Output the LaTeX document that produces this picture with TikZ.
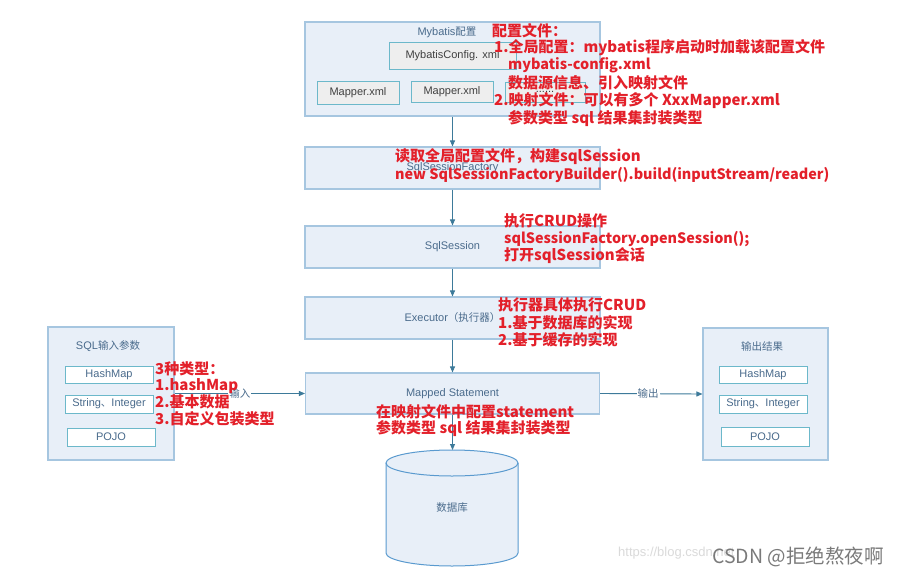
\documentclass[tikz,border=0pt]{standalone}
\usepackage{fontspec}
\setmainfont{Liberation Sans}
\newfontfamily\cjk{Noto Sans CJK SC}
\usetikzlibrary{arrows.meta}
\definecolor{boxfill}{HTML}{E8EFF8}
\definecolor{boxline}{HTML}{A6C6E0}
\definecolor{lblcol}{HTML}{4A6B8C}
\definecolor{tealline}{HTML}{6CB8CA}
\definecolor{grayfill}{HTML}{EEEEEE}
\definecolor{arrowc}{HTML}{3D7A9A}
\definecolor{redc}{HTML}{E3202A}
\definecolor{dbline}{HTML}{5A9ACF}
\definecolor{wmgray}{HTML}{7A7A7A}
\definecolor{wmlight}{HTML}{DADADA}
\newcommand\zh[1]{{\cjk\fontsize{10.5}{12}\selectfont #1}}
\begin{document}
\begin{tikzpicture}[x=1pt,y=-1pt,
  bigbox/.style={draw=boxline,fill=boxfill,line width=1.1pt,inner sep=0pt,
    text=lblcol,font=\fontsize{11}{13}\selectfont},
  innerbox/.style={draw=tealline,fill=white,line width=1pt,inner sep=0pt,
    text=lblcol,font=\fontsize{11}{13}\selectfont},
  graybox/.style={draw=tealline,fill=grayfill,line width=1pt,inner sep=0pt,
    text=black!75,font=\fontsize{11}{13}\selectfont},
  lbl/.style={text=lblcol,font=\fontsize{11}{13}\selectfont,inner sep=1pt},
  redtxt/.style={text=redc,font=\cjk\bfseries\fontsize{15}{17}\selectfont,
    anchor=west,inner sep=0pt},
  redlat/.style={redtxt,font=\cjk\bfseries\fontsize{14.4}{17}\selectfont},
  conn/.style={draw=arrowc,line width=0.9pt,-{Triangle[length=6pt,width=5pt]}},
  edgelbl/.style={fill=white,text=lblcol,inner sep=1pt,font=\cjk\fontsize{10.5}{12}\selectfont}
]
\fill[white] (0,0) rectangle (898,576);
\useasboundingbox (0,0) rectangle (898,576);

% top box
\node[bigbox,minimum width=295pt,minimum height=94pt] (top) at (452.5,69) {};
\node[lbl] (toptitle) at (447,32) {Mybatis\zh{配置}};
\node[graybox,minimum width=127pt,minimum height=27pt] (cfg) at (452.5,55.5) {MybatisConfig. xml};
\node[graybox,minimum width=82pt,minimum height=23pt] (map1) at (358,92.5) {Mapper.xml};
\node[graybox,minimum width=82pt,minimum height=21pt] (map2) at (452,91.5) {Mapper.xml};
\node[graybox,minimum width=80pt,minimum height=20pt] (map3) at (545,92) {......};

% main chain
\node[bigbox,minimum width=295pt,minimum height=42pt] (ssf) at (452.5,168) {SqlSessionFactory};
\node[bigbox,minimum width=295pt,minimum height=42pt] (ss) at (452.5,247) {SqlSession};
\node[bigbox,minimum width=295pt,minimum height=42pt] (ex) at (452.5,318) {Executor\zh{（执行器）}};
\node[bigbox,minimum width=294pt,minimum height=41pt] (ms) at (452.5,393.5) {Mapped Statement};

% left box
\node[bigbox,minimum width=126pt,minimum height=133pt] (inp) at (111,393.5) {};
\node[lbl] (inptitle) at (108,346) {SQL\zh{输入参数}};
\node[innerbox,minimum width=88pt,minimum height=17pt] (ih) at (109,374.5) {HashMap};
\node[innerbox,minimum width=88pt,minimum height=18pt] (is) at (109,404) {String\zh{、}Integer};
\node[innerbox,minimum width=88pt,minimum height=18pt] (ip) at (111,437) {POJO};

% right box
\node[bigbox,minimum width=125pt,minimum height=132pt] (out) at (765.5,394) {};
\node[lbl] (outtitle) at (762,346) {\zh{输出结果}};
\node[innerbox,minimum width=88pt,minimum height=17pt] (oh) at (763,374.5) {HashMap};
\node[innerbox,minimum width=88pt,minimum height=18pt] (os) at (763,404) {String\zh{、}Integer};
\node[innerbox,minimum width=88pt,minimum height=19pt] (op) at (765,436.5) {POJO};

% database cylinder
\fill[boxfill] (386,463) -- (386,553) arc[start angle=180,end angle=0,x radius=66,y radius=13]
  -- (518,463) arc[start angle=0,end angle=-180,x radius=66,y radius=13] -- cycle;
\draw[dbline,line width=1pt] (386,463) -- (386,553) arc[start angle=180,end angle=0,x radius=66,y radius=13]
  -- (518,463);
\draw[dbline,line width=1pt] (452,463) ellipse[x radius=66,y radius=13];
\coordinate (dbtop) at (452.5,450);
\node[lbl] (db) at (452,508) {\zh{数据库}};

% connectors
\draw[conn] (top.south) -- (ssf.north);
\draw[conn] (ssf.south) -- (ss.north);
\draw[conn] (ss.south) -- (ex.north);
\draw[conn] (ex.south) -- (ms.north);
\draw[conn] (ms.south) -- (dbtop);
\draw[conn] (inp.east) -- node[edgelbl] (lin) {输入} (ms.west);
\draw[conn] (ms.east) -- node[edgelbl,pos=0.47] (lout) {输出} (out.west);

% red annotations
\node[redtxt] (a1) at (492,31) {配置文件：};
\node[redtxt] (a2) at (494,48) {1.全局配置：mybatis程序启动时加载该配置文件};
\node[redlat] (a3) at (508,65) {mybatis-config.xml};
\node[redtxt] (a4) at (508,83) {数据源信息、引入映射文件};
\node[redtxt] (a5) at (494,101) {2.映射文件：可以有多个 XxxMapper.xml};
\node[redtxt] (a6) at (508,119) {参数类型 sql 结果集封装类型};

\node[redtxt] (b1) at (395,157) {读取全局配置文件，构建sqlSession};
\node[redlat] (b2) at (395,175) {new SqlSessionFactoryBuilder().build(inputStream/reader)};

\node[redtxt] (c1) at (504,221) {执行CRUD操作};
\node[redlat] (c2) at (504,239) {sqlSessionFactory.openSession();};
\node[redtxt] (c3) at (504,256) {打开sqlSession会话};

\node[redtxt] (d1) at (498,305) {执行器具体执行CRUD};
\node[redtxt] (d2) at (498,323) {1.基于数据库的实现};
\node[redtxt] (d3) at (498,340) {2.基于缓存的实现};

\node[redtxt] (e1) at (376,412) {在映射文件中配置statement};
\node[redtxt] (e2) at (376,429) {参数类型 sql 结果集封装类型};

\node[redtxt] (f1) at (155,369) {3种类型：};
\node[redtxt] (f2) at (155,386) {1.hashMap};
\node[redtxt] (f3) at (155,402) {2.基本数据};
\node[redtxt] (f4) at (155,419) {3.自定义包装类型};

% watermark
\node[anchor=west,inner sep=0pt,text=wmlight,font=\fontsize{13}{15}\selectfont] (url) at (618,553) {https://blog.csdn.net};
\node[anchor=west,inner sep=0pt,text=wmgray,font=\cjk\fontsize{19.5}{22}\selectfont] (wm) at (712,557) {CSDN @拒绝熬夜啊};
\end{tikzpicture}
\end{document}
